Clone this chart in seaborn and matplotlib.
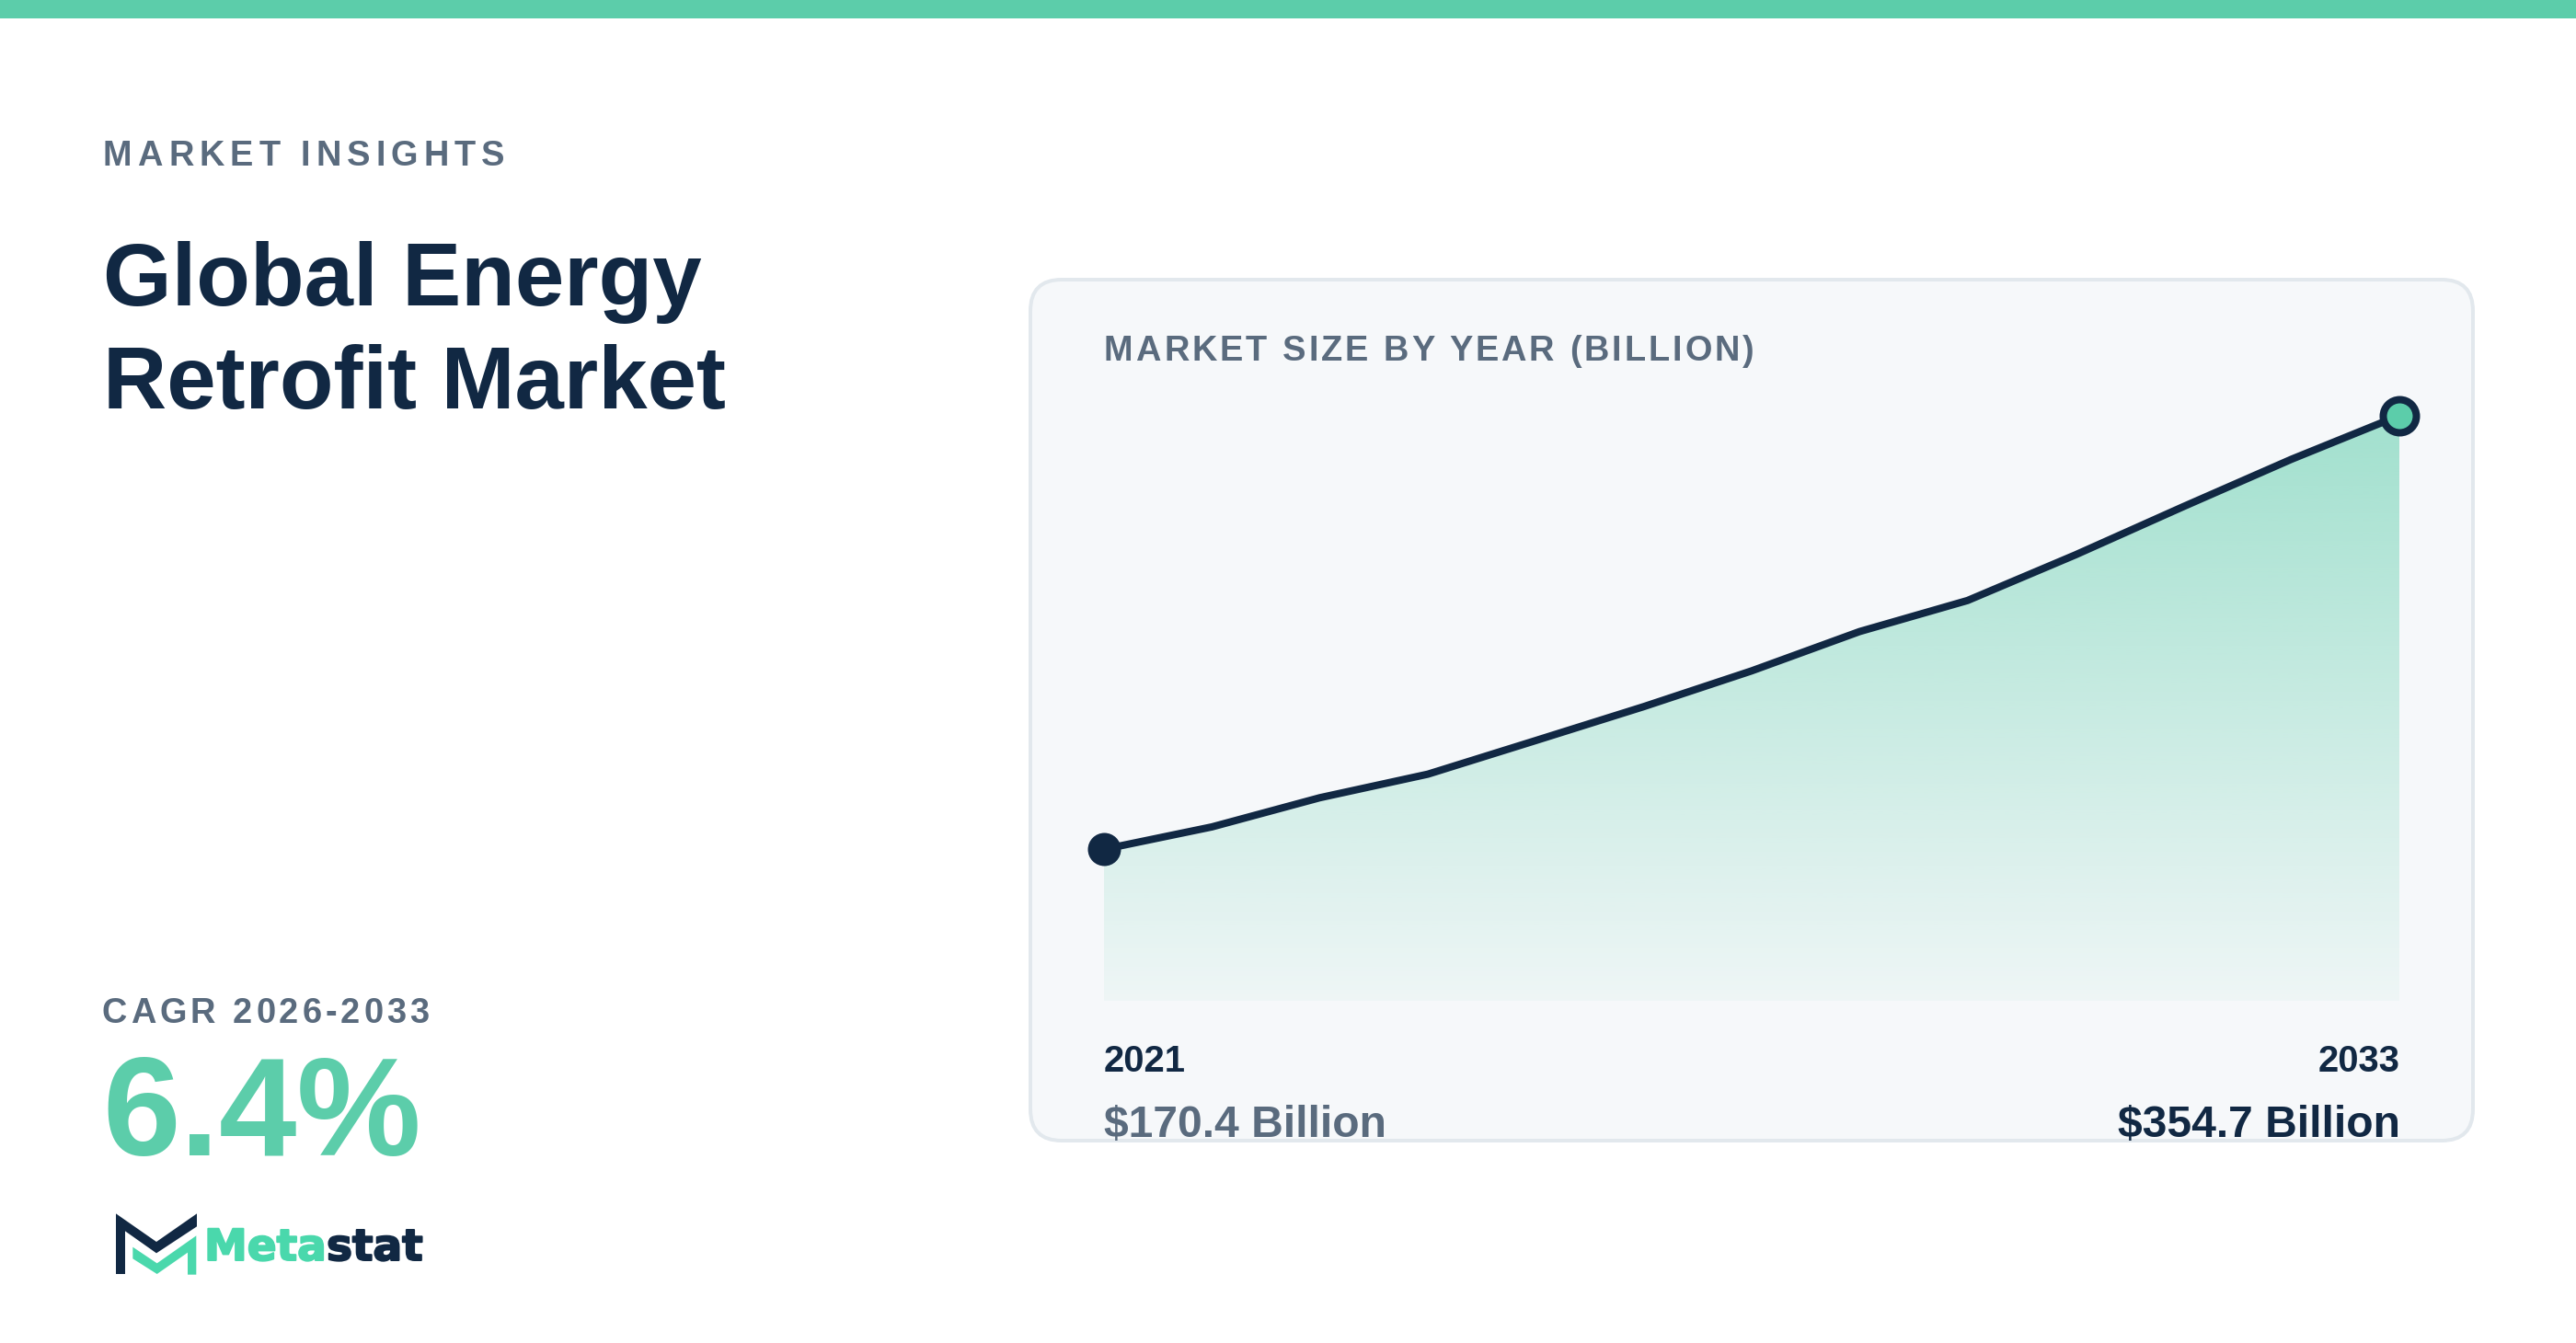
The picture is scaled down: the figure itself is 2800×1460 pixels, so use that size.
# market size card, drawn at 2800x1460 (dpi 200 so 1 device px = 0.36 pt)
import numpy as np
import pandas as pd
import matplotlib
matplotlib.use("Agg")
import matplotlib.pyplot as plt
import matplotlib.patheffects as pe
import seaborn as sns
from matplotlib.patches import FancyBboxPatch, Polygon, Rectangle
from matplotlib.text import Text

years = [2021, 2022, 2023, 2024, 2025, 2026, 2027, 2028, 2029, 2030, 2031, 2032, 2033]
market_size = [170.4, 179.9, 192.3, 202.3, 216.6, 231.0, 246.2, 262.9, 276.1, 295.5, 316.0, 336.1, 354.7]
start_label = "$170.4 Billion"
end_label = "$354.7 Billion"
title_lines = ["Global Energy", "Retrofit Market"]

NAVY = "#112843"
SLATE = "#5a6b7e"
GREEN = "#5ccdaa"
LOGO_GREEN = "#4ad8ac"
CARD = "#f6f8fa"
BORDER = "#e2e8ed"
W, H = 2800, 1460


def pt(px):
    return px * 0.36


class SpacedText(Text):
    # matplotlib has no letter spacing, so the string is drawn glyph by glyph
    spacing = 0

    def draw(self, renderer):
        s = self.get_text()
        x, y = self.get_transform().transform(self.get_position())
        prop = self.get_fontproperties()
        for i, ch in enumerate(s):
            w = renderer.get_text_width_height_descent(s[:i], prop, False)[0] if i else 0
            g = Text(x + w + i * self.spacing, y, ch, color=self.get_color(),
                     fontproperties=prop, va="baseline", ha="left", transform=None)
            g.set_figure(self.get_figure())
            g.draw(renderer)


def spaced(ax, x, y, s, size, spacing):
    t = SpacedText(x, y, s, color=SLATE, fontsize=pt(size), fontweight="bold",
                   va="baseline", ha="left", transform=ax.transData)
    t.spacing = spacing
    ax.add_artist(t)
    return t


sns.set_theme(style="white")
plt.rcParams["font.family"] = ["Liberation Sans", "DejaVu Sans"]

fig = plt.figure(figsize=(14, 7.3), dpi=200, facecolor="white")

# page layer in device pixels
bg = fig.add_axes([0, 0, 1, 1], zorder=0)
bg.set_xlim(0, W)
bg.set_ylim(H, 0)
bg.axis("off")
bg.add_patch(Rectangle((0, 0), W, 20, color=GREEN, lw=0))
bg.add_patch(FancyBboxPatch((1120, 304), 1568, 936, boxstyle="round,pad=0,rounding_size=34",
                            fc=CARD, ec=BORDER, lw=pt(4)))

spaced(bg, 112, 180, "MARKET INSIGHTS", 38, 6)
for line, base in zip(title_lines, [332, 444]):
    bg.text(112, base, line, color=NAVY, fontsize=pt(96), fontweight="bold", va="baseline")
spaced(bg, 110.5, 1112.5, "CAGR 2026-2033", 38, 4)
bg.text(111, 1256, "6.4%", color=GREEN, fontsize=pt(152), fontweight="bold", va="baseline")
spaced(bg, 1200, 392, "MARKET SIZE BY YEAR (BILLION)", 38, 3)

bg.text(1200, 1165, str(years[0]), color=NAVY, fontsize=pt(40), fontweight="bold", va="baseline")
bg.text(2609, 1165, str(years[-1]), color=NAVY, fontsize=pt(40), fontweight="bold", va="baseline", ha="right")
bg.text(1200, 1236.5, start_label, color=SLATE, fontsize=pt(48), fontweight="bold", va="baseline")
bg.text(2609, 1236.5, end_label, color=NAVY, fontsize=pt(48), fontweight="bold", va="baseline", ha="right")

# logo, traced in the 3x crop of the reference
logo_navy = [(198, 838), (330, 930), (462, 838), (462, 880), (330, 967), (228, 895), (228, 1035), (198, 1035)]
logo_green = [(253, 947), (253, 985), (332, 1035), (432, 965), (432, 1037), (460, 1037), (460, 910), (332, 1000)]
for pts, c in [(logo_navy, NAVY), (logo_green, LOGO_GREEN)]:
    bg.add_patch(Polygon([(60 + a / 3, 1040 + b / 3) for a, b in pts], closed=True, fc=c, ec="none"))
for x, s, c in [(222, "Meta", LOGO_GREEN), (355, "stat", NAVY)]:
    bg.text(x, 1370, s, color=c, fontsize=pt(47), fontweight="bold", family="DejaVu Sans", va="baseline",
            path_effects=[pe.withStroke(linewidth=pt(2), foreground=c)])

# chart layer
x0, x1, y_top, y_base = 1200, 2608, 451.7, 1088
ax = fig.add_axes([x0 / W, 1 - y_base / H, (x1 - x0) / W, (y_base - y_top) / H], zorder=1)
ax.patch.set_alpha(0)
base_value = 106.0

df = pd.DataFrame({"year": years, "size": market_size})
area = ax.fill_between(df["year"], df["size"], base_value, color="none", lw=0)

alpha = np.linspace(0.55, 0.05, 256)
grad = np.zeros((256, 1, 4))
grad[:, :, :3] = matplotlib.colors.to_rgb(GREEN)
grad[:, 0, 3] = alpha
im = ax.imshow(grad, extent=[years[0], years[-1], base_value, market_size[-1]],
               aspect="auto", origin="upper", interpolation="bilinear", zorder=1)
im.set_clip_path(area.get_paths()[0], transform=ax.transData)

sns.lineplot(data=df, x="year", y="size", ax=ax, color=NAVY, linewidth=pt(8),
             estimator=None, zorder=2, clip_on=False)
sns.scatterplot(x=years[:1], y=market_size[:1], ax=ax, s=pt(36) ** 2, color=NAVY,
                linewidth=0, zorder=3, clip_on=False)
sns.scatterplot(x=years[-1:], y=market_size[-1:], ax=ax, s=pt(36) ** 2, color=GREEN,
                edgecolor=NAVY, linewidth=pt(8), zorder=3, clip_on=False)

ax.set_xlim(years[0], years[-1])
ax.set_ylim(base_value, market_size[-1])
ax.axis("off")

fig.savefig("out.png", dpi=200, facecolor="white")
